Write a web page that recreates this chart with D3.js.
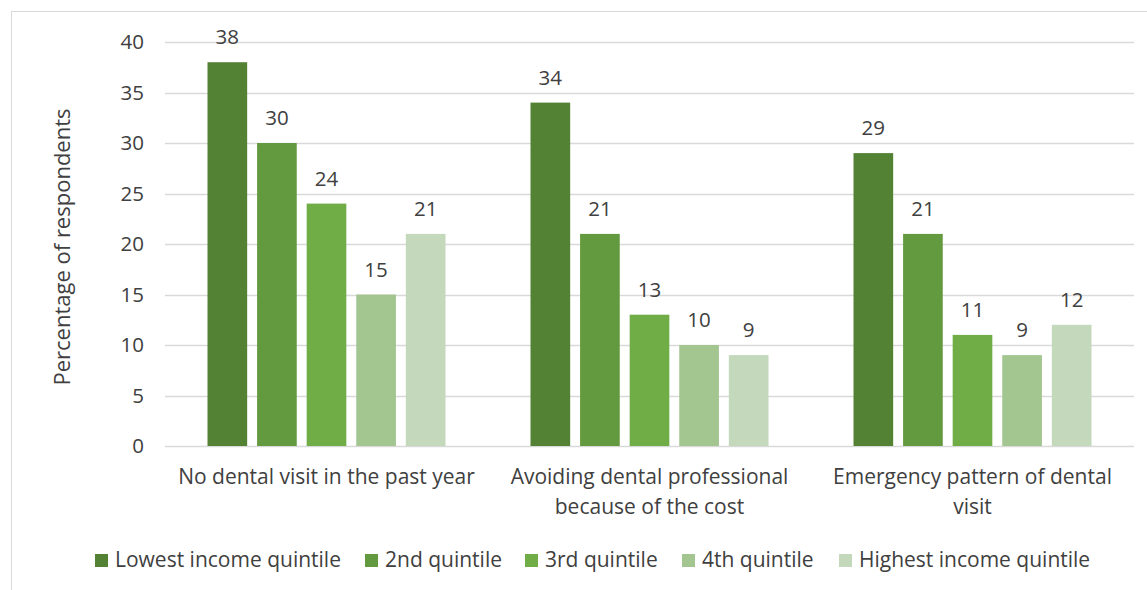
<!DOCTYPE html>
<html>
<head>
<meta charset="utf-8">
<script src="https://cdn.jsdelivr.net/npm/d3@7"></script>
<style>
  body { margin: 0; background: #fff; }
  text { font-family: "Open Sans", "Liberation Sans", sans-serif; fill: #404040; }
</style>
</head>
<body>
<script>
var width = 1147,
    height = 590;

// chart data
const categories = [
    ["No dental visit in the past year"],
    ["Avoiding dental professional", "because of the cost"],
    ["Emergency pattern of dental", "visit"]
];
const series = ["Lowest income quintile", "2nd quintile", "3rd quintile", "4th quintile", "Highest income quintile"];
const lowest = [38, 34, 29];
const second = [30, 21, 21];
const third = [24, 13, 11];
const fourth = [15, 10, 9];
const highest = [21, 9, 12];
const yTicks = [0, 5, 10, 15, 20, 25, 30, 35, 40];

const colors = ["#548235", "#639a3f", "#70ad47", "#a3c590", "#c4d8bb"];
const values = [lowest, second, third, fourth, highest];

const fontSize = "20.5px";

const svg = d3.select("body").append("svg")
    .attr("width", width)
    .attr("height", height);

// chart border
svg.append("rect")
    .attr("x", 11.5).attr("y", 11.5)
    .attr("width", width + 20).attr("height", height + 20)
    .attr("fill", "none")
    .attr("stroke", "#d9d9d9");

const plot = { left: 165, right: 1134, top: 42, bottom: 446 };

const y = d3.scaleLinear()
    .domain([0, 40])
    .range([plot.bottom, plot.top]);

const x0 = d3.scaleBand()
    .domain(d3.range(categories.length))
    .range([plot.left, plot.right]);

// inner band for the 5 quintiles
const groupW = 238;
const x1 = d3.scaleBand()
    .domain(d3.range(series.length))
    .range([0, groupW])
    .paddingInner(0.2);

// gridlines
svg.append("g")
    .selectAll("line")
    .data(yTicks)
    .join("line")
    .attr("x1", plot.left).attr("x2", plot.right)
    .attr("y1", d => Math.round(y(d)) + 0.5)
    .attr("y2", d => Math.round(y(d)) + 0.5)
    .attr("stroke", "#d9d9d9")
    .attr("stroke-width", 1.5);

// y axis labels
const yAxis = svg.append("g")
    .attr("transform", "translate(" + plot.left + ",0)")
    .call(d3.axisLeft(y).tickValues(yTicks).tickSize(0).tickPadding(21));
yAxis.select(".domain").remove();
yAxis.selectAll("text")
    .style("font-size", fontSize)
    .attr("fill", "#595959");

svg.append("text")
    .attr("transform", "translate(70," + ((plot.top + plot.bottom) / 2 + 3) + ") rotate(-90)")
    .attr("text-anchor", "middle")
    .style("font-size", "22px")
    .attr("fill", "#595959")
    .text("Percentage of respondents");

// bars
const groups = svg.append("g")
    .selectAll("g")
    .data(values)
    .join("g")
    .attr("fill", (d, i) => colors[i]);

groups.each(function (vals, si) {
    const g = d3.select(this);
    g.selectAll("rect")
        .data(vals)
        .join("rect")
        .attr("x", (d, ci) => x0(ci) + (x0.bandwidth() - groupW) / 2 + x1(si))
        .attr("y", d => y(d))
        .attr("width", x1.bandwidth())
        .attr("height", d => y(0) - y(d));

    g.selectAll("text")
        .data(vals)
        .join("text")
        .attr("x", (d, ci) => x0(ci) + (x0.bandwidth() - groupW) / 2 + x1(si) + x1.bandwidth() / 2)
        .attr("y", d => y(d) - 18)
        .attr("text-anchor", "middle")
        .style("font-size", fontSize)
        .attr("fill", "#404040")
        .text(d => d);
});

// category labels
svg.append("g")
    .selectAll("text")
    .data(categories)
    .join("text")
    .attr("x", (d, i) => x0(i) + x0.bandwidth() / 2)
    .attr("y", 484)
    .attr("text-anchor", "middle")
    .style("font-size", "21px")
    .attr("fill", "#595959")
    .each(function (lines) {
        d3.select(this).selectAll("tspan")
            .data(lines)
            .join("tspan")
            .attr("x", d3.select(this).attr("x"))
            .attr("dy", (d, i) => i === 0 ? 0 : 30)
            .text(d => d);
    });

// legend
const legendX = [95, 365, 525, 682, 839];
const legend = svg.append("g")
    .selectAll("g")
    .data(series)
    .join("g")
    .attr("transform", (d, i) => "translate(" + legendX[i] + ",554)");

legend.append("rect")
    .attr("width", 13).attr("height", 13)
    .attr("fill", (d, i) => colors[i]);

legend.append("text")
    .attr("x", 20).attr("y", 13)
    .style("font-size", "21px")
    .attr("fill", "#595959")
    .text(d => d);
</script>
</body>
</html>
